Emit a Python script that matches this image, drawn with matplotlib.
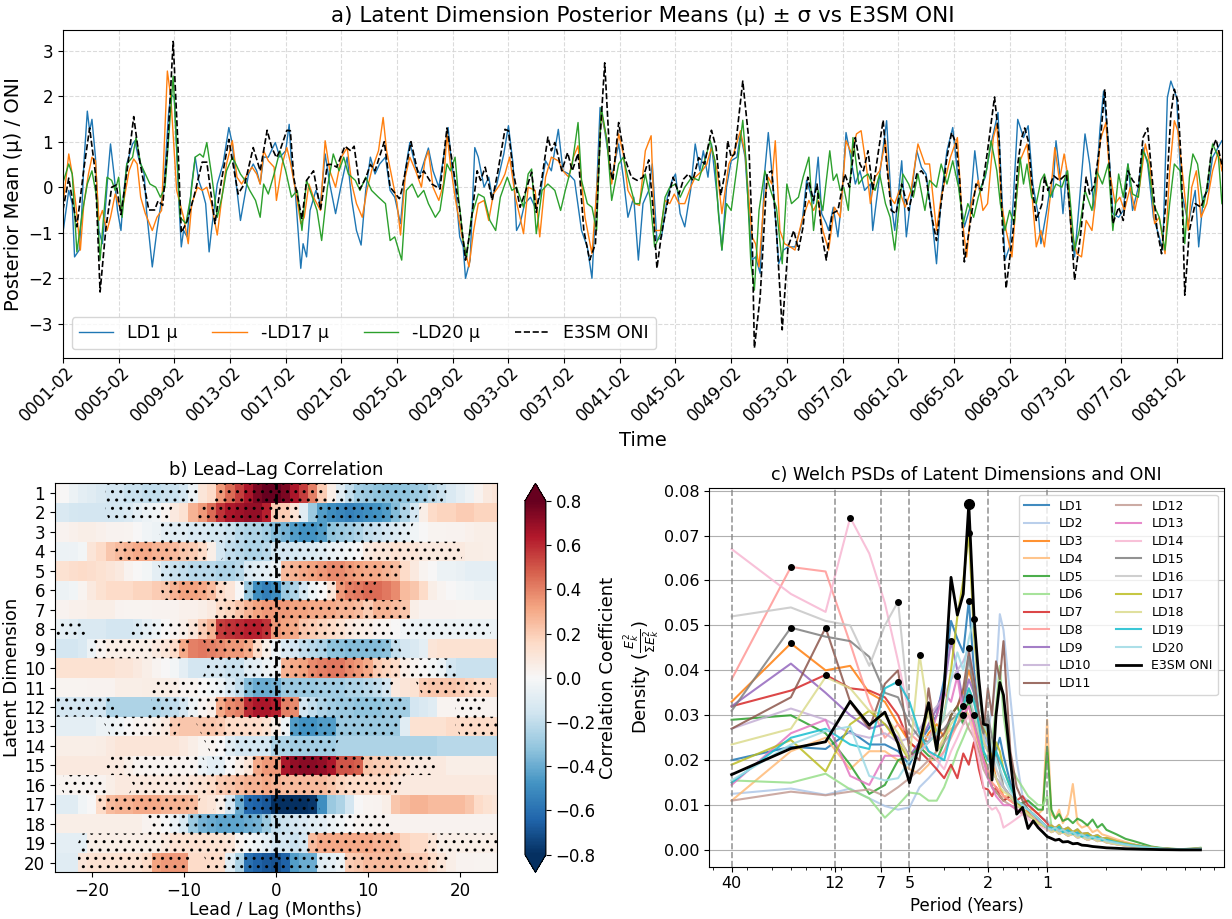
import numpy as np
import matplotlib
matplotlib.use("Agg")
import matplotlib.pyplot as plt
from matplotlib.ticker import NullFormatter
from matplotlib.transforms import ScaledTranslation

# ---------------- panel a : (month index from 0001-02, value) ----------------
oni_pts = [(0,-0.5),(5,0.2),(12,-0.87),(18,0.4),(23,1.3),(28,0.3),(32,-2.3),(37,-0.9),(42,0.0),(46,0.05),
    (50,-0.6),(56,0.5),(61,1.55),(66,0.6),(74,-0.5),(79,-0.5),(82,-0.3),(86,-0.4),(90,0.8),(95,3.2),
    (99,1.0),(102,-1.0),(107,-0.75),(113,-0.2),(120,0.55),(124,0.55),(131,-0.8),(137,0.2),(143,1.05),(151,-0.15),
    (157,0.1),(164,0.87),(170,0.36),(176,1.25),(180,0.87),(184,0.65),(187,0.8),(193,1.25),(196,1.24),(199,0.2),
    (203,-0.3),(206,-0.7),(210,0.15),(216,0.36),(222,-0.5),(228,0.5),(232,0.5),(236,0.44),(243,0.9),(248,0.8),
    (251,0.9),(256,-0.04),(261,0.2),(265,0.5),(269,0.36),(277,1.0),(282,0.0),(290,-0.25),(292,-0.07),(300,1.0),
    (307,0.2),(311,0.36),(318,0.07),(325,-0.04),(331,1.3),(338,0.15),(342,-0.5),(347,-1.6),(351,-0.95),(357,0.36),
    (360,0.15),(364,0.44),(370,-0.29),(375,0.36),(381,1.27),(384,1.24),(388,0.36),(394,-0.44),(398,-0.15),(404,0.33),
    (408,-0.55),(413,0.22),(418,1.1),(421,0.8),(424,0.98),(430,0.36),(435,0.76),(439,0.36),(444,0.74),(449,-0.95),
    (454,-1.6),(459,-1.24),(463,1.09),(467,2.73),(472,0.36),(474,0.15),(479,1.42),(484,0.66),(490,0.22),(495,0.15),
    (500,0.22),(505,0.6),(509,-0.58),(512,-1.78),(516,-1.02),(522,-0.22),(526,0.22),(531,-0.15),(535,0.18),(539,0.29),
    (543,0.15),(548,0.65),(553,0.51),(559,1.25),(563,0.87),(567,-0.18),(571,0.36),(573,1.02),(576,0.66),(579,0.73),
    (586,2.33),(591,1.09),(594,-0.95),(596,-3.53),(601,-2.4),(607,0.3),(611,0.36),(615,-0.95),(620,-3.13),(625,-1.31),
    (630,-0.95),(634,-1.38),(638,-0.87),(642,0.22),(647,-0.29),(650,0.07),(654,-1.02),(658,-1.6),(663,-0.58),(668,-0.51),
    (674,0.29),(678,0.0),(683,1.09),(687,0.51),(690,0.36),(694,0.8),(698,-0.07),(703,0.8),(707,1.47),(710,0.51),
    (714,-0.51),(718,-0.58),(723,0.07),(729,-0.51),(736,0.29),(740,0.36),(744,0.22),(749,-0.66),(753,-1.17),(757,-0.36),
    (762,0.66),(766,1.2),(770,0.95),(773,0.15),(777,-1.64),(782,-0.8),(787,0.07),(792,-0.07),(797,0.8),(803,1.98),
    (807,1.02),(810,-0.95),(813,-2.22),(819,-0.95),(823,0.5),(826,1.05),(829,1.3),(832,1.02),(835,0.15),(839,-0.73),
    (844,-0.36),(846,0.22),(849,-0.07),(854,0.25),(859,0.15),(865,0.29),(868,-0.51),(872,-2.04),(877,-1.09),(882,0.22),
    (885,-0.15),(889,0.04),(894,0.95),(898,2.15),(902,0.51),(905,-0.8),(910,-0.44),(914,-0.73),(918,0.36),(922,0.15),
    (927,0.0),(931,1.09),(935,1.3),(938,0.44),(943,-0.91),(947,-1.46),(951,-0.22),(955,1.6),(958,2.15),(961,1.9),
    (964,0.51),(967,-2.37),(971,-0.95),(976,-0.36),(981,-0.44),(986,-0.07),(990,0.8),(994,1.05),(999,0.5)]

ld1_pts = [(0,-1.0),(5,-0.07),(8,-0.36),(10,-1.53),(14,-1.38),(16,-0.66),(18,0.51),(21,1.67),(23,1.24),(25,1.49),
    (28,0.66),(31,-0.95),(34,-1.24),(36,-0.66),(39,0.36),(41,0.95),(44,0.29),(47,-0.51),(50,-0.95),(52,-0.22),
    (55,0.51),(60,0.95),(62,1.02),(65,0.66),(70,0.29),(72,-0.51),(75,-1.24),(77,-1.75),(81,-0.95),(84,-0.44),
    (87,0.0),(91,1.6),(93,2.04),(96,1.97),(100,-0.36),(102,-1.31),(104,-0.95),(107,-1.09),(111,0.07),(114,0.66),
    (117,0.15),(120,-0.07),(123,-0.36),(126,-1.42),(128,-0.95),(133,0.07),(138,0.51),(143,1.31),(146,0.95),(149,0.15),
    (153,-0.73),(157,-0.15),(160,0.29),(164,0.51),(167,0.36),(170,0.07),(173,0.66),(177,0.66),(183,0.98),(187,0.66),
    (192,0.8),(195,1.38),(197,0.51),(200,0.0),(205,-1.78),(207,-1.24),(210,-1.53),(213,-0.51),(218,-0.07),(222,-0.36),
    (226,0.73),(230,0.07),(235,-0.58),(240,0.07),(245,0.66),(249,-0.29),(253,-0.95),(257,-1.27),(261,-0.07),(265,0.66),
    (269,0.29),(273,0.51),(278,0.66),(282,-0.07),(286,-0.22),(291,-0.8),(295,0.36),(299,0.98),(304,0.44),(308,0.29),
    (315,0.86),(319,0.36),(324,0.0),(329,0.8),(332,1.31),(335,0.51),(338,0.07),(342,-1.09),(345,-1.31),(347,-2.0),
    (351,-1.6),(355,0.87),(358,0.66),(363,0.0),(367,0.22),(370,-0.22),(374,0.07),(380,0.73),(384,1.35),(388,0.51),
    (391,-0.95),(394,-0.8),(398,-0.36),(403,-0.22),(407,-0.44),(411,-0.22),(416,0.58),(421,0.36),(427,1.27),(431,0.36),
    (436,0.29),(441,0.15),(447,-0.95),(452,-1.31),(456,-2.0),(460,-0.07),(463,1.75),(467,1.24),(473,0.22),(479,0.95),
    (483,0.22),(487,-0.66),(492,-0.22),(496,-1.6),(500,-0.36),(505,-0.07),(508,0.51),(512,-1.17),(516,-1.09),(521,-0.22),
    (525,0.15),(528,0.29),(532,-0.58),(536,-0.87),(541,-0.07),(545,0.95),(549,0.36),(552,0.8),(556,0.22),(559,0.95),
    (564,-0.22),(568,-1.38),(572,0.0),(576,0.58),(581,0.66),(584,1.17),(588,0.66),(594,-1.6),(597,-1.53),(601,-1.89),
    (605,0.36),(608,1.2),(612,0.07),(617,-1.68),(621,-1.38),(625,-1.31),(631,-1.31),(637,-0.8),(641,0.15),(647,-0.36),
    (651,0.66),(654,-0.58),(658,-0.8),(660,-0.95),(664,-0.44),(668,-1.09),(671,-0.36),(675,1.2),(678,0.8),(683,0.07),
    (687,0.36),(691,-0.07),(696,0.07),(698,-0.95),(703,0.07),(707,0.87),(710,1.46),(714,-0.36),(717,-0.95),(723,0.58),
    (727,-1.09),(731,-0.22),(736,0.8),(740,0.44),(744,0.29),(749,-0.66),(753,-1.68),(757,-0.22),(762,0.8),(767,1.31),
    (772,0.07),(777,-0.87),(782,-0.44),(786,0.8),(790,-0.07),(795,0.22),(800,0.95),(806,1.64),(809,0.0),(812,-1.6),
    (816,-1.31),(819,-0.36),(823,1.49),(828,1.09),(832,1.35),(836,0.07),(841,-0.66),(843,-1.24),(848,-0.51),(851,0.0),
    (853,-0.22),(856,1.02),(859,0.36),(862,-0.58),(865,0.36),(869,-0.95),(872,-1.53),(876,-0.36),(881,1.17),(885,0.51),
    (889,-0.51),(894,1.31),(897,2.11),(901,1.02),(905,-0.58),(910,-0.66),(914,-0.51),(918,0.51),(922,-0.51),(927,0.0),
    (931,0.87),(935,0.51),(940,-0.66),(945,-1.09),(948,-1.38),(952,1.97),(955,2.33),(960,1.97),(964,-0.07),(970,-0.8),
    (976,-0.07),(979,-1.31),(983,-0.22),(987,-0.07),(991,0.66),(999,1.02)]

ld17_pts = [(0,-0.4),(5,0.73),(8,0.29),(11,-0.36),(15,-1.38),(18,-0.36),(22,0.29),(25,0.66),(28,0.58),(31,-0.73),
    (34,-0.51),(38,-0.95),(41,-0.66),(45,-0.15),(50,-0.51),(52,-0.36),(57,0.36),(61,0.62),(64,0.51),(67,-0.22),
    (71,-0.58),(77,-0.95),(81,-0.66),(85,-0.51),(90,2.55),(93,1.97),(98,-0.07),(104,-0.66),(108,-1.24),(111,-0.36),
    (116,0.0),(120,-0.07),(124,0.0),(128,-0.36),(133,-1.05),(137,-0.22),(141,0.51),(146,1.02),(150,0.22),(154,0.07),
    (159,0.29),(163,0.44),(167,0.29),(170,0.07),(173,0.8),(177,0.58),(182,0.44),(184,-0.29),(189,0.51),(193,0.87),
    (196,0.55),(200,0.0),(205,-0.8),(208,-0.66),(212,0.07),(216,-0.22),(222,-0.51),(226,1.02),(230,0.36),(235,0.0),
    (240,0.66),(245,0.87),(249,0.07),(253,-0.36),(258,-0.66),(262,-0.07),(266,0.36),(272,0.8),(276,1.53),(279,0.8),
    (284,0.15),(288,-0.36),(291,-1.05),(295,0.22),(299,0.66),(304,0.36),(309,0.0),(312,0.58),(315,0.8),(319,0.0),
    (324,-0.29),(328,0.07),(331,1.17),(334,0.5),(338,-0.22),(344,-1.09),(350,-1.75),(354,-0.95),(358,-0.36),(363,-0.29),
    (367,-0.73),(371,-0.15),(377,0.07),(381,0.29),(385,0.66),(390,-0.22),(394,-0.66),(397,-1.02),(401,0.0),(407,-0.07),
    (411,-1.09),(416,0.22),(421,0.66),(427,0.58),(431,0.36),(436,0.22),(440,0.66),(444,0.91),(450,-0.66),(456,-1.46),
    (462,0.58),(464,1.67),(469,1.02),(473,0.07),(479,1.17),(483,0.73),(487,-0.07),(493,-0.36),(497,-0.4),(502,0.8),
    (507,1.13),(510,-0.95),(515,-0.95),(519,-0.29),(523,-0.36),(527,-0.15),(531,-0.36),(536,-0.36),(541,0.0),(545,0.22),
    (551,0.36),(555,0.51),(559,0.87),(564,0.36),(568,-0.58),(574,0.51),(578,0.73),(584,1.24),(588,0.73),(594,-1.09),
    (597,-1.24),(600,-1.75),(604,-0.36),(608,0.22),(611,0.07),(614,1.02),(618,-0.95),(622,-1.24),(627,-1.31),(631,-1.38),
    (637,-0.73),(643,-0.29),(647,-0.51),(651,-0.29),(655,-0.95),(660,-1.38),(665,-0.44),(670,-0.66),(675,1.02),(680,0.73),
    (684,1.17),(688,1.24),(693,0.36),(696,-0.36),(700,0.22),(704,0.36),(709,1.02),(713,-0.22),(717,-0.36),(721,-0.07),
    (726,-0.44),(731,-0.07),(737,0.95),(743,0.51),(747,0.51),(753,-0.95),(757,-0.22),(765,0.66),(771,1.09),(775,-0.66),
    (779,-1.53),(783,-0.36),(789,0.15),(793,-0.51),(797,-0.36),(802,1.09),(805,1.38),(809,-0.36),(813,-0.95),(818,-1.53),
    (822,-0.22),(825,0.58),(831,0.95),(835,-0.07),(839,-1.31),(843,-0.95),(846,-1.31),(851,-0.22),(855,0.87),(859,0.15),
    (863,0.73),(866,0.29),(869,-0.95),(874,-1.46),(878,-1.53),(882,-0.73),(887,-0.95),(891,-0.07),(894,1.02),(899,1.42),
    (902,0.36),(907,-0.36),(911,-0.22),(915,-0.51),(920,0.0),(924,-0.51),(928,0.0),(933,0.95),(937,0.51),(941,-0.8),
    (945,-0.66),(950,-1.46),(954,0.36),(958,1.46),(961,1.24),(966,0.07),(970,-0.95),(973,0.0),(977,0.36),(981,-0.66),
    (986,-0.36),(991,0.36),(996,0.8),(999,0.36)]

ld20_pts = [(0,0.1),(5,0.51),(8,0.29),(12,-1.42),(17,-0.51),(21,0.07),(25,0.36),(29,-0.22),(32,-1.6),(35,-0.66),
    (38,0.22),(42,0.15),(45,-0.07),(48,0.22),(51,-0.66),(55,0.51),(60,0.66),(63,1.09),(67,0.51),(71,0.29),
    (75,0.07),(80,0.0),(84,-0.22),(88,0.0),(95,2.44),(98,0.87),(101,-0.66),(106,-0.8),(110,-0.22),(114,0.66),
    (118,0.73),(121,0.66),(124,0.98),(128,0.29),(133,-0.66),(137,-0.22),(141,0.36),(146,0.66),(149,0.51),(153,0.29),
    (157,0.15),(161,-0.07),(166,-0.29),(170,-0.66),(173,0.07),(177,-0.15),(182,0.29),(187,0.8),(192,0.36),(197,-0.22),
    (202,-0.07),(206,-0.95),(210,0.15),(215,-0.22),(219,-0.51),(223,-1.17),(228,0.0),(233,0.73),(238,0.36),(242,0.66),
    (246,0.29),(252,0.15),(256,-0.07),(261,0.22),(266,-0.07),(272,-0.22),(278,-0.36),(282,-1.17),(286,-1.09),(292,-1.6),
    (296,-0.07),(301,0.07),(306,-0.22),(311,-0.07),(315,-0.36),(321,-0.66),(325,-0.51),(331,0.51),(334,0.36),(338,0.66),
    (341,-0.22),(345,-1.17),(348,-1.53),(352,-0.66),(358,-0.15),(363,-0.22),(368,-0.73),(373,-0.95),(377,-0.22),(383,0.22),
    (387,-0.07),(391,0.0),(397,-0.44),(401,0.29),(404,0.4),(408,-1.02),(413,-0.07),(418,0.07),(424,-0.07),(429,-0.51),
    (433,-0.07),(439,0.51),(444,1.42),(447,0.15),(452,-0.36),(456,-0.44),(460,-0.95),(464,1.75),(469,1.02),(473,-0.29),
    (479,0.51),(483,0.66),(487,0.22),(493,-0.36),(497,-0.36),(502,0.29),(506,-0.22),(510,-1.31),(515,-1.02),(519,-0.22),
    (523,0.0),(528,0.07),(532,-0.22),(536,0.0),(542,0.22),(548,0.15),(554,0.66),(558,1.02),(562,0.58),(565,-0.58),
    (568,-1.38),(572,-0.36),(576,-0.51),(581,0.44),(586,1.47),(589,0.51),(593,-1.68),(596,-2.26),(600,-0.51),(605,0.36),
    (611,-0.15),(615,-0.44),(620,-1.68),(624,0.07),(628,-0.36),(634,-0.22),(638,0.22),(643,0.66),(647,-0.95),(651,-0.07),
    (655,-0.51),(661,0.8),(664,0.15),(667,0.29),(670,-0.07),(673,0.0),(677,-0.51),(681,1.09),(686,0.07),(690,0.22),
    (694,0.29),(700,-0.07),(704,0.29),(709,-0.36),(713,-0.66),(717,-1.38),(721,-0.36),(724,0.29),(729,0.07),(733,-0.22),
    (737,0.29),(743,-0.51),(747,0.15),(753,0.0),(757,0.51),(762,0.07),(767,0.58),(772,0.0),(776,-0.8),(780,-0.36),
    (785,-0.66),(789,-0.22),(796,0.36),(800,1.02),(805,0.36),(808,-0.36),(812,-0.95),(816,-0.51),(820,-0.8),(825,0.66),
    (828,0.07),(831,0.51),(835,-0.22),(839,-0.36),(843,0.15),(846,0.29),(851,-0.22),(856,0.07),(861,0.0),(866,0.36),
    (869,-0.51),(872,-1.38),(876,-0.95),(881,-0.07),(887,-0.51),(891,0.36),(896,0.07),(901,0.51),(905,-0.95),(910,0.29),
    (914,-0.22),(918,0.51),(922,-0.15),(927,-0.22),(931,0.8),(935,0.58),(940,-0.36),(945,-0.66),(950,-1.38),(954,-0.36),
    (958,0.51),(963,0.36),(967,-1.24),(971,0.22),(974,0.73),(978,0.51),(983,-0.44),(987,0.15),(991,0.95),(996,0.66),
    (999,-0.36)]

tick_months = list(range(0, 961, 48))
tick_labels = ["%04d-02" % (1 + 4 * i) for i in range(len(tick_months))]

# ---------------- panel b : lead-lag correlation (x100), lags -24..24 ----------------
lags = np.arange(-24, 25)
corr_rows = [
    [2,0,-5,-8,-10,-12,-15, -15,-18,-18,-20,-20,-18,-18, -15,-5,10,15,35,45,55, 65,75,80,80,75,65,55, 40,20,5,-10,-20,-28,-30, -32,-33,-33,-32,-30,-28,-22, -18,-12,-8,-4,3,8,10],
    [-12,-12,-14,-15,-15,-15,-15, -14,-12,-8,-5,-3,2,8, 12,28,35,45,58,65,68, 70,70,62,20,20,10,-10, -30,-45,-50,-52,-55,-52,-50, -48,-45,-35,-25,-15,5,15, 18,18,20,20,18,18,18],
    [3,3,4,5,5,4,3, 3,2,0,-3,-5,-8,-10, -10,-12,-12,-14,-15,-18,-22, -25,-25,-28,-35,-38,-45,-48, -48,-45,-32,-30,-28,-25,-20, -18,-15,-12,-8,-3,0,2, 2,3,3,4,5,5,5],
    [-5,-5,-4,-2,10,15,22, 25,28,30,30,28,28,25, 22,20,15,5,-15,-20,-22, -25,-25,-22,-15,-15,-14,-12, -12,-10,-6,-4,-2,0,8, 10,10,12,10,10,8,8, 8,8,8,6,6,5,5],
    [12,12,14,15,14,12,10, 8,3,0,-2,-8,-15,-18, -20,-22,-22,-22,-25,-25,-22, -12,-10,-8,-5,25,28,30, 32,35,38,38,35,32,30, 30,28,25,15,8,2,0, -5,-5,-6,-8,-8,-8,-8],
    [-5,-5,-3,2,8,12,15, 15,15,18,18,20,22,28, 32,32,30,25,15,10,0, -30,-50,-55,-50,-30,-25,-15, -5,0,10,35,40,42,45, 45,42,38,25,22,15,5, 2,0,-2,-3,-5,-5,-5],
    [3,3,4,4,5,5,5, 3,2,2,2,3,3,3, 4,4,5,8,15,18,22, 28,32,35,35,35,32,32, 30,30,30,28,28,25,20, 28,28,25,22,5,3,3, 3,3,2,2,2,2,2],
    [-5,-8,-10,-12,-12,-12,-15, -15,-15,-12,-8,-5,0,3, 5,10,20,28,55,58,60, 62,62,58,35,32,30,22, 20,18,15,12,8,6,5, 3,2,0,-3,-5,-5,-5, -5,-5,-5,-5,-5,-5,-5],
    [-15,-15,-15,-12,-5,2,5, 5,5,5,5,8,10,15, 30,40,42,40,38,35,35, 30,15,5,-5,-12,-15,-20, -22,-25,-32,-33,-35,-35,-35, -35,-33,-20,-15,-12,-8,10, 12,12,12,12,12,12,12],
    [12,12,12,12,12,12,12, 10,10,8,5,2,0,-2, -8,-15,-15,-15,-15,-18,-18, -10,-8,-5,-3,28,30,32, 38,40,42,42,38,35,30, 20,18,15,5,2,0,-2, -5,-15,-18,-18,-18,-18,-18],
    [2,2,2,2,3,3,3, 5,5,5,6,6,6,5, 3,2,0,-2,-5,-12,-20, -35,-40,-40,-38,-30,-30,-30, -30,-28,-28,-28,-25,-25,-22, -20,-15,8,10,12,20,22, 22,22,20,18,15,15,15],
    [-15,-15,-15,-15,-15,-15,-25, -25,-25,-25,-25,-25,-22,-20, -15,-5,2,5,30,38,40, 60,65,65,62,40,38,-15, -20,-25,-28,-30,-30,-32,-32, -32,-30,-30,-28,-15,-12,-10, 2,2,2,2,3,3,3],
    [-8,-8,-8,-8,-8,-5,-5, -3,0,2,3,5,8,20, 22,22,22,22,20,15,15, 15,15,12,5,-5,-45,-48, -48,-45,-45,-30,-30,-30,-30, -30,-30,-30,-10,12,12,12, 12,15,15,15,15,15,15],
    [5,5,5,5,5,6,8, 10,10,10,10,10,10,10, 8,5,2,2,0,-10,-15, -15,-15,-15,-25,-25,-28,-28, -28,-28,-28,-25,-25,-25,-25, -25,-25,-25,-25,-25,-25,-25, -22,-22,-22,-22,-22,-22,-22],
    [8,8,8,8,8,8,8, 8,5,3,3,3,3,3, 3,2,-5,-8,-8,0,5, 10,30,35,35,65,70,72, 72,70,65,50,50,48,22, 20,20,18,12,8,8,8, 8,5,5,5,5,5,5],
    [2,2,2,2,3,3,5, 8,8,8,8,8,8,8, 8,10,12,15,20,22,25, 28,28,30,28,25,25,25, 25,25,22,18,15,15,15, 15,15,10,8,8,8,8, 8,8,8,8,8,8,8],
    [-10,-10,-10,-3,0,15,25, 28,28,30,30,30,28,28, 28,25,12,10,5,-15,-40, -62,-65,-68,-80,-80,-82,-80, -78,-50,-30,-25,-15,0,2, 3,5,22,25,28,28,25, 25,25,25,22,15,12,10],
    [5,5,5,5,5,5,5, 5,5,5,3,2,0,-5, -12,-30,-38,-40,-42,-42,-42, -40,-38,-30,-20,-18,-15,-12, -10,-8,-5,-3,0,2,2, 3,3,3,3,3,3,3, 3,3,3,3,3,3,3],
    [-8,-8,-8,-8,5,5,5, 5,5,5,5,5,8,12, 12,12,12,12,12,10,2, -2,-5,-8,-15,-15,-18,-15, 25,30,30,30,30,30,30, 28,28,25,18,15,15,10, 5,5,5,5,5,5,5],
    [-10,-10,-10,10,12,12,12, 12,12,12,15,32,35,35, 35,15,15,15,15,-10,-25, -60,-65,-68,-70,-65,-45,-40, -40,-10,-8,-5,20,22,25, 25,25,25,22,20,20,15, 10,5,3,3,2,2,2],
]
sig_ranges = [
    [(-18, -9), (-6, 5), (7, 18)],
    [(-18, -12), (-8, 2), (5, 15)],
    [(-12, 14)],
    [(-17, -8), (-5, 20)],
    [(-12, -6), (-5, 13)],
    [(-12, -6), (-3, 10)],
    [(-6, 14)],
    [(-24, -21), (-15, 12), (14, 23)],
    [(-20, -10), (-7, 13)],
    [(-7, 19)],
    [(-13, 12), (16, 23)],
    [(-24, -18), (-13, 14), (20, 22)],
    [(-18, -11), (-8, 13), (20, 24)],
    [(-7, 6)],
    [(-18, -8), (-6, 17)],
    [(-23, -19), (-15, 13)],
    [(-19, -9), (-6, 4)],
    [(-13, 12)],
    [(-21, -13), (-12, 13), (17, 24)],
    [(-21, -10), (-7, 7), (8, 18)],
]

# ---------------- panel c : Welch PSD (x1e-3), frequency index k, f = k/40 cyc/yr ----------------
k_idx = (list(range(1, 25)) + [26, 28, 30, 32, 34, 36, 38, 40]
         + [42, 44, 46, 48, 51, 54, 57, 60, 64, 68, 72, 76, 80, 90, 100, 110, 120, 135, 150, 170, 190, 215, 240])
psd_oni = [16.8,22.6,24.1,33.1,27.8,30.7,23.7,15.0,24.0,32.8,22.2,36.0,60.7,52.3,57.0,77.0,52.0,38.0,28.0,27.8,15.6,30.0,37.3,34.5,
           20.0,8.0,9.5,4.8,6.5,5.0,4.0,3.0,
           2.6,2.2,2.4,1.8,1.9,1.4,1.5,1.1,1.0,0.8,0.7,0.6,0.5,0.4,0.3,0.25,0.2,0.15,0.1,0.08,0.05,0.05,0.05]
tail_a = [5,4.5,5.2,4,4.4,3.6,3.9,3,3.3,2.6,2.9,2.2,2.3,1.7,1.3,1.0,0.8,0.5,0.35,0.2,0.15,0.2,0.3]
tail_b = [4.5,5,4.2,4.6,3.7,4,3.2,3.5,2.7,3,2.4,2.6,2,1.6,1.2,0.9,0.7,0.45,0.3,0.2,0.15,0.2,0.25]
tail_c = [5.5,4.8,5.6,4.4,5,4,4.6,3.6,3.8,3,3.3,2.6,2.7,2,1.5,1.2,0.9,0.6,0.4,0.25,0.2,0.25,0.35]
tail_d = [4,4.4,3.6,4,3.2,3.6,2.8,3,2.3,2.6,2,2.2,1.7,1.3,1,0.8,0.6,0.4,0.25,0.15,0.1,0.15,0.2]
tail_ld4 = [8,7,9,6,8,14.7,6,5,5.5,4,4.5,3.5,3.2,2.4,1.8,1.3,0.9,0.6,0.4,0.25,0.2,0.25,0.3]
tail_ld5 = [9,7,8,6.5,7,6,7,6.5,5.5,6.8,5,5.8,4.5,3.5,2.5,2,1.5,0.8,0.5,0.3,0.2,0.3,0.5]
psd_ld = [
    [20,23,22.5,26.5,23.5,23.5,22,19,24,27,30,38,51,47,44,55.5,40,30,26,24,18,22,25,21, 15,11,9,8,7,6.5,5.5,5] + tail_a,
    [12.5,13.7,12.3,13.7,11.5,9.8,9.0,9.5,14,16,18,22,26,30,28,34,30,25,22,26,32,38,52.5,49, 34,20,12,11,9,8,7,6.5] + tail_c,
    [33,46,40,41,35,33,28,24,22,26,28,25,30,32,35,40,36,30,26,28,20,16,14,12, 11,10,9,8.5,7,6.5,6,5] + tail_b,
    [11,22,25,18,22,22,20,18,17,19,22,25,27,28,32,30,27,22,20,17,15,14,13,12, 12,11,10,9,9,8,9,29] + tail_ld4,
    [29,30,26,19,12.5,14.5,20,21,23,21,20,24,30,32,28,33.5,29,24,21,18,14,13,12,11, 12,10,10.5,11,10,9,9,23] + tail_ld5,
    [15.5,15,17,13.5,11.5,7.2,10,12.8,12.5,11,11,14,18,22,25,28,30,26,22,20,24,32,41,30, 19,16,14,12,11,10,10,12] + tail_c,
    [32,35.5,39,36,35.5,34,30,24,22,20,18,16,19,16,21.5,19,24,18,13.8,13.5,12,14,12,11, 12,11,12,10,9,8,7,6] + tail_b,
    [38,63,62,46,33,25,28,26,24,22,20,22,25,28,30,32,28,24,20,18,15,14,13,12, 11,10,9,8,7.5,7,6,5] + tail_a,
    [32,41.5,35,30,27,28,25,21,24,28,31.5,36,46.5,40,33,38,35,28,24,22,18,16,15,14, 12,10,9,8,7,6,6,5] + tail_d,
    [27,31.5,29,26,25,26,24,25,27,30,32,34,38,40,42,45,38,30,25,22,18,16,15,14, 12,11,10,9,8,7,6,5] + tail_b,
    [27,34,49.5,33,27,37,40,22,20,36,24,26,30,32,36,44,38,30,26,36,30,42,38,46.5, 22,14,11,9,8,7,6,5] + tail_a,
    [11,13,12.2,13,13.5,12,14,16,18,20,22,24,26,28,30,27,25,22,18,16,14,13,12,11, 10,9,8,7.5,7,6,5.5,5] + tail_d,
    [14.5,26,29,16.5,14.5,21,21,20.5,22,24,30,35,33,38.7,30,32,28,24,20,16,14,12,11,10, 10,9,8.5,8,7,6.5,6,5] + tail_c,
    [67,57,53,74,66,55,42,30,26,22,20,18,22,25,28,30,25,20,14,10,9,9.5,8,5, 6,7,8,7,6,5.5,5,4.5] + tail_d,
    [31,49.5,47.5,46.5,43,35,34,28,25,24,26,27,29,30,32,43,35,28,26,30,25,22,18,14, 12,10,9,8,7,6,5.5,5] + tail_b,
    [52,54,51,50,41,50,55.3,30,26,25,27,29,31,30,32,35,30,26,24,28,22,18,16,14, 12,10,9,8,7,6,5.5,5] + tail_a,
    [19,24.5,17.5,28,31,28,24,20,22,32,26,30,40,52,60,70.5,48,35,28,25,20,24,22,18, 14,11,9,8,7,6,5.5,5] + tail_c,
    [23.5,27,38.5,36,31,30,26,20,43.5,30,22,25,28,30,32,36,33,28,24,22,18,16,14,13, 12,10,9,8,7,6,5.5,5] + tail_d,
    [15,25,27,23.5,22.5,36,37.5,33,26,22,21,20,26,30,32,36,33,28,22,20,19,22,20,18, 14,11,10,9,8,7,6,5] + tail_a,
    [15.5,23.5,26.5,27.5,16.5,15.5,16,20,22,24,26,30,38,44,40,47,51.5,35,28,26,22,20,18,16, 13,11,10,9,8,7,6,5] + tail_b,
]
period_marks = [40, 12, 7, 5, 2, 1]

# ---------------- figure ----------------
plt.rcParams["hatch.color"] = "black"
plt.rcParams["hatch.linewidth"] = 1.0
fig = plt.figure(figsize=(12.32, 9.19), dpi=100)

# panel a
ax = fig.add_axes([0.0511, 0.6104, 0.9407, 0.3569])
series = [(ld1_pts, "LD1 μ", "tab:blue", "-", 1.0),
          (ld17_pts, "-LD17 μ", "tab:orange", "-", 1.0),
          (ld20_pts, "-LD20 μ", "tab:green", "-", 1.0),
          (oni_pts, "E3SM ONI", "black", "--", 1.2)]
for pts, lab, col, ls, lw in series:
    m, v = np.array(pts).T
    ax.plot(m, v, ls, color=col, lw=lw, label=lab)
ax.set_xlim(0, 999)
ax.set_ylim(-3.75, 3.45)
ax.set_xticks(tick_months)
ax.set_xticklabels(tick_labels, rotation=45, ha="right", va="center", rotation_mode="anchor", fontsize=12)
shift = ScaledTranslation(0.08, -0.02, fig.dpi_scale_trans)
for lab in ax.get_xticklabels():
    lab.set_transform(lab.get_transform() + shift)
ax.tick_params(axis="y", labelsize=12)
ax.grid(True, linestyle="--", color="lightgray", alpha=0.8)
ax.set_title("a) Latent Dimension Posterior Means (μ) ± σ vs E3SM ONI", fontsize=15.5)
ax.set_xlabel("Time", fontsize=14)
ax.set_ylabel("Posterior Mean (μ) / ONI", fontsize=14)
ax.legend(loc="lower left", ncol=4, fontsize=12.5)

# panel b
axb = fig.add_axes([0.0446, 0.0508, 0.3588, 0.4233])
corr = np.array(corr_rows) / 100.0
rows = np.arange(1, 21)
pcm = axb.pcolormesh(lags, rows, corr, cmap="RdBu_r", vmin=-0.8, vmax=0.8, shading="nearest")
sig = np.zeros_like(corr)
for i, rngs in enumerate(sig_ranges):
    for a, b in rngs:
        sig[i, (lags >= a) & (lags <= b)] = 1
sig_pad = np.vstack([sig[:1], sig, sig[-1:]])
y_pad = np.concatenate([[0.5], rows, [20.5]])
axb.contourf(lags, y_pad, sig_pad, levels=[0.5, 1.5], colors="none", hatches=[".."])
axb.axvline(0, color="black", ls="--", lw=2)
axb.set_xlim(-24, 24)
axb.set_ylim(20.5, 0.5)
axb.set_yticks(rows)
axb.tick_params(labelsize=12)
axb.set_title("b) Lead–Lag Correlation", fontsize=13)
axb.set_xlabel("Lead / Lag (Months)", fontsize=12.5, labelpad=1)
axb.set_ylabel("Latent Dimension", fontsize=13, labelpad=2)
cax = fig.add_axes([0.4261, 0.0508, 0.0170, 0.4233])
cb = fig.colorbar(pcm, cax=cax, extend="both", ticks=np.round(np.arange(-0.8, 0.81, 0.2), 1))
cb.ax.tick_params(labelsize=12)
cb.set_label("Correlation Coefficient", fontsize=13, labelpad=2)

# panel c
axc = fig.add_axes([0.5755, 0.0569, 0.4180, 0.4117])
freq = np.array(k_idx) / 40.0
colors = plt.get_cmap("tab20").colors
n_low = 20  # peaks marked for periods >= 2 yr
for i, vals in enumerate(psd_ld):
    v = np.array(vals) / 1000.0
    axc.plot(freq, v, color=colors[i], lw=1.5, alpha=0.85, label="LD%d" % (i + 1))
    j = int(np.argmax(v[:n_low]))
    axc.plot(freq[j], v[j], "o", color="black", ms=4, zorder=5)
v = np.array(psd_oni) / 1000.0
axc.plot(freq, v, color="black", lw=2, label="E3SM ONI", zorder=6)
j = int(np.argmax(v))
axc.plot(freq[j], v[j], "o", color="black", ms=7, zorder=7)
for p in period_marks:
    axc.axvline(1.0 / p, color="gray", ls="--", lw=1.2, alpha=0.8)
axc.set_xscale("log")
axc.set_xlim(0.0192, 7.9)
axc.set_ylim(-0.0037, 0.0805)
axc.set_xticks([1.0 / p for p in period_marks])
axc.set_xticklabels([str(p) for p in period_marks])
axc.xaxis.set_minor_formatter(NullFormatter())
axc.grid(True, axis="y", color="#b0b0b0")
axc.tick_params(labelsize=11.5)
axc.set_title("c) Welch PSDs of Latent Dimensions and ONI", fontsize=12.5)
axc.set_xlabel("Period (Years)", fontsize=12)
axc.set_ylabel(r"Density ($\frac{E_k^2}{\Sigma E_k^2}$)", fontsize=13, labelpad=1)
axc.legend(loc="upper right", ncol=2, fontsize=9, labelspacing=0.38)

fig.savefig("out.png", dpi=100)
